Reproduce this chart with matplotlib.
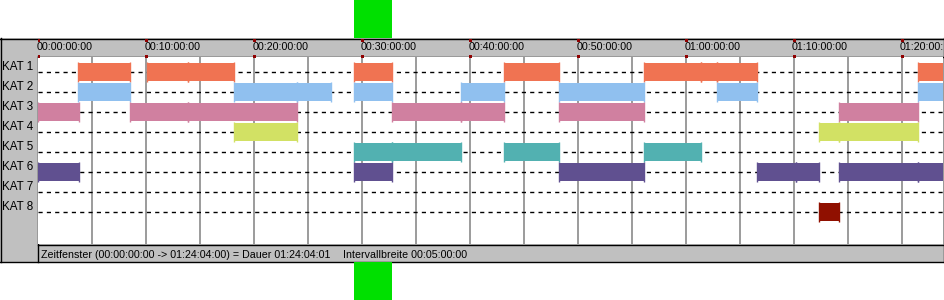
"""
Zeitleiste KAT 1-8: Intervalle je Kategorie als Balken.
"""

import matplotlib.pyplot as plt
from matplotlib.patches import Rectangle
from matplotlib.transforms import blended_transform_factory, Bbox

plt.rcParams["font.family"] = ["Liberation Sans", "DejaVu Sans"]

# Kategorien (Zeilen von oben nach unten)
categories = ["KAT 1", "KAT 2", "KAT 3", "KAT 4", "KAT 5", "KAT 6", "KAT 7", "KAT 8"]
colors = ["#F07352", "#90C0EF", "#D080A0", "#D2E164", "#52B1B1", "#605090", "#808080", "#901000"]

# Intervalle in Minuten (Start, Ende)
kat1 = [(3.70, 8.45), (10.09, 13.82), (13.82, 18.08), (29.26, 32.75), (43.15, 48.20),
        (56.14, 61.36), (61.36, 62.82), (62.82, 66.53), (81.51, 84.07)]
kat2 = [(3.70, 8.45), (18.08, 23.94), (23.94, 27.10), (29.26, 32.75), (39.12, 43.17),
        (48.19, 56.14), (62.82, 66.53), (81.51, 84.07)]
kat3 = [(0.00, 3.73), (8.45, 13.82), (13.82, 23.94), (32.73, 39.12), (39.12, 43.17),
        (48.19, 56.14), (74.12, 81.51)]
kat4 = [(18.08, 23.94), (72.27, 74.12), (74.12, 81.51)]
kat5 = [(29.26, 32.73), (32.73, 39.12), (43.15, 48.20), (56.14, 61.36)]
kat6 = [(0.00, 3.73), (29.26, 32.73), (48.19, 56.14), (66.53, 70.16), (70.16, 72.27),
        (74.12, 81.51), (81.51, 84.07)]
kat7 = []
kat8 = [(72.27, 74.12)]
intervals = [kat1, kat2, kat3, kat4, kat5, kat6, kat7, kat8]

# Zeitfenster und Auswahl (Minuten)
window_start = 0.0
window_end = 84.07
selection = (29.26, 32.73)
tick_minutes = [0, 10, 20, 30, 40, 50, 60, 70, 80]
tick_labels = ["00:00:00:00", "00:10:00:00", "00:20:00:00", "00:30:00:00", "00:40:00:00",
               "00:50:00:00", "01:00:00:00", "01:10:00:00", "01:20:00:00"]
grid_minutes = list(range(5, 85, 5))
footer_left = "Zeitfenster (00:00:00:00 -> 01:24:04:00) = Dauer 01:24:04:01"
footer_right = "Intervallbreite 00:05:00:00"

W, H = 945, 300
GRAY = "#C0C0C0"
FS = 7.7

fig = plt.figure(figsize=(W / 100, H / 100), dpi=100)

# Hintergrund in Pixelkoordinaten
bg = fig.add_axes([0, 0, 1, 1])
bg.set_xlim(0, W)
bg.set_ylim(H, 0)
bg.axis("off")
bg.add_patch(Rectangle((0, 38), W, 224, fc=GRAY, ec="none"))
for y in (38.5, 261.5):
    bg.plot([0, 944], [y, y], color="black", lw=1.0)
for y in (56.5, 244.5):
    bg.plot([37.5, 944], [y, y], color="black", lw=1.0)
bg.plot([0.5, 0.5], [38, 262], color="black", lw=1.0)
bg.plot([37.5, 37.5], [56, 262], color="black", lw=1.0)
bg.plot([944, 944], [38, 262], color="black", lw=1.0)

# Plotbereich
ax = fig.add_axes([38 / W, 1 - 244 / H, (943.5 - 38) / W, (244 - 57) / H])
ax.set_facecolor("white")
px_per_min = 10.8
ax.set_xlim(window_start - 0.5 / px_per_min, (943.5 - 38) / px_per_min)
ax.set_ylim(8.6, -0.75)
for s in ax.spines.values():
    s.set_visible(False)
ax.set_xticks([])
ax.set_yticks([])

for m in grid_minutes:
    ax.axvline(m, color="#808080", lw=1.1, zorder=1)
for i in range(len(categories)):
    ax.axhline(i, color="black", lw=1.0, ls=(0, (3, 3)), zorder=1)

for i, (segs, c) in enumerate(zip(intervals, colors)):
    if segs:
        ax.broken_barh([(a, b - a) for a, b in segs], (i - 0.46, 0.92),
                       facecolors=c, edgecolor="none", zorder=2)
        for a, b in segs:
            ax.vlines([a, b], i - 0.5, i + 0.5, color=c, lw=1.0, zorder=2)

# Kategorie-Beschriftungen
for i, name in enumerate(categories):
    fig.text(2 / W, 1 - (67 + 20 * i) / H, name, fontsize=8.4, ha="left", va="center")

# Kopfzeile mit Zeitmarken (rechts abgeschnitten wie im Original)
tr = blended_transform_factory(ax.transData, fig.transFigure)
clip = Bbox.from_extents(0, 0, 943, H)
for m, lab in zip(tick_minutes, tick_labels):
    t = fig.text(m - 2 / px_per_min, 1 - 47 / H, lab, fontsize=FS, ha="left", va="center",
                 transform=tr)
    t.set_clip_box(clip)
    t.set_clip_on(True)
    for y0 in (39, 55):
        fig.patches.append(Rectangle((m - 1 / px_per_min, 1 - (y0 + 3) / H),
                                     2.5 / px_per_min, 3 / H, transform=tr,
                                     fc="#900000", ec="none", figure=fig))

# Auswahl (gruen) oben und unten
for y0, h in ((0, 38), (262, 38)):
    fig.patches.append(Rectangle((selection[0], 1 - (y0 + h) / H), selection[1] - selection[0],
                                 h / H, transform=tr, fc="#00E000", ec="none", figure=fig))

# Fusszeile
fig.text(41 / W, 1 - 255 / H, footer_left, fontsize=FS, ha="left", va="center")
fig.text(343 / W, 1 - 255 / H, footer_right, fontsize=FS, ha="left", va="center")

fig.savefig("out.png", dpi=100)
